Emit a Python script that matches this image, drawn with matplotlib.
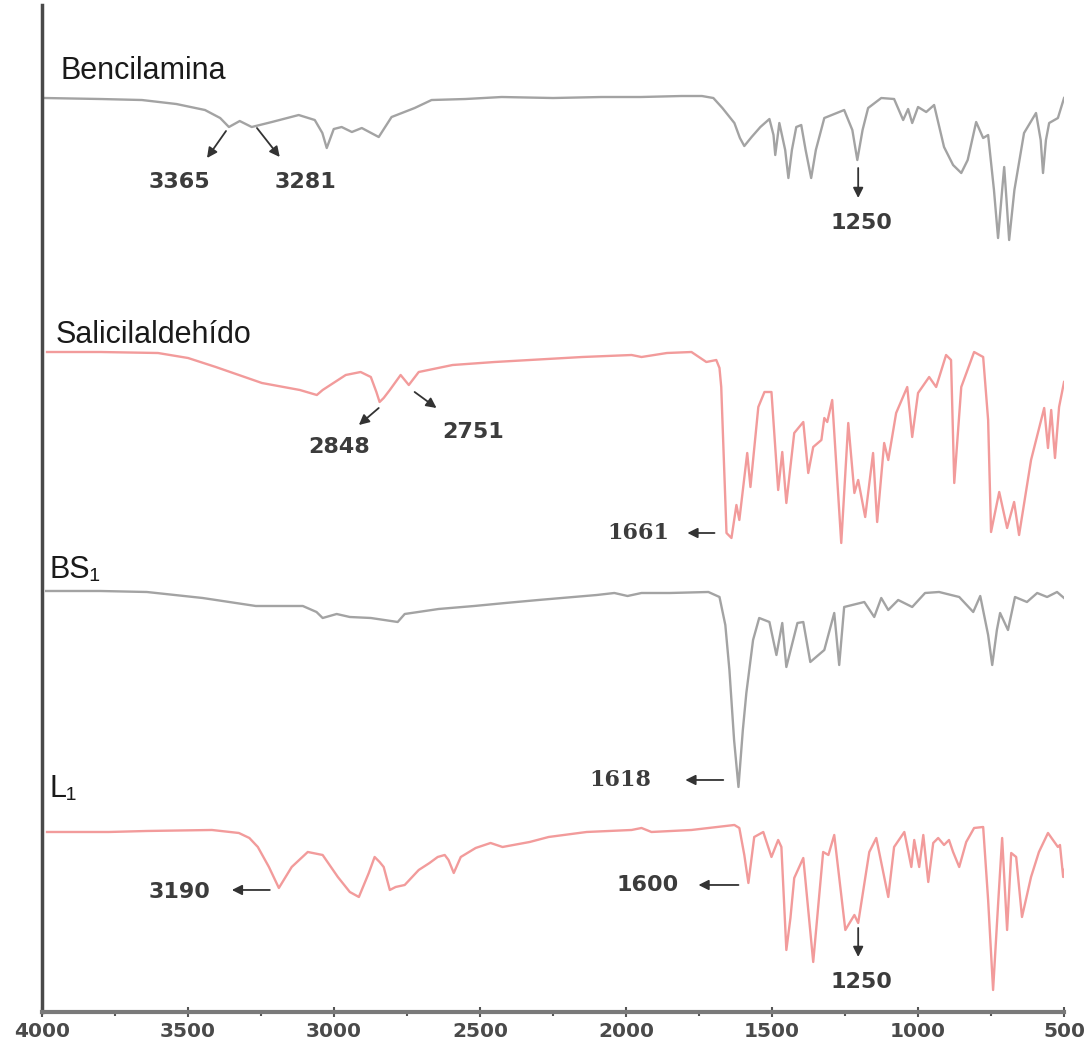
import matplotlib
matplotlib.use("Agg")
import matplotlib.pyplot as plt
from matplotlib.ticker import MultipleLocator

# ---------------- data (wavenumber, cm-1 ; stacked signal, axis inverted) -------------
benc_wn = [3990, 3800, 3658, 3540, 3442, 3390, 3360, 3323, 3282, 3213, 3121, 3066, 3040, 3025, 3001,
           2974, 2939, 2905, 2847, 2803, 2724, 2666, 2550, 2426, 2250, 2084, 1950, 1810, 1740, 1701,
           1670, 1629, 1610, 1595, 1570, 1540, 1509, 1495, 1489, 1475, 1455, 1444, 1432, 1417, 1400,
           1385, 1366, 1350, 1321, 1253, 1225, 1208, 1190, 1171, 1126, 1082, 1051, 1034, 1020, 1000,
           972, 945, 911, 880, 852, 830, 801, 777, 760, 740, 726, 712, 705, 697, 688, 670, 637, 596,
           580, 572, 562, 551, 521, 500]
benc_y = [98, 99, 100, 104, 110, 118, 127, 121, 127, 122, 115, 120, 133, 148, 129,
          127, 132, 128, 137, 117, 108, 100, 99, 97, 98, 97, 97, 96, 96, 98,
          108, 123, 138, 146, 137, 127, 119, 135, 155, 123, 150, 178, 150, 127, 125,
          150, 178, 150, 118, 110, 130, 160, 130, 108, 98, 99, 120, 109, 123, 107,
          112, 105, 147, 165, 173, 160, 122, 138, 135, 190, 238, 190, 167, 200, 240, 190, 133, 113,
          140, 173, 140, 123, 118, 98]

sal_wn = [3983, 3800, 3603, 3500, 3405, 3247, 3117, 3059, 3039, 2960, 2909, 2874, 2855, 2844, 2830,
          2809, 2772, 2744, 2710, 2594, 2450, 2330, 2150, 1981, 1947, 1860, 1776, 1725, 1691, 1680,
          1674, 1665, 1656, 1639, 1622, 1612, 1585, 1574, 1547, 1526, 1502, 1479, 1465, 1451, 1424,
          1393, 1376, 1359, 1331, 1321, 1311, 1294, 1263, 1239, 1218, 1205, 1181, 1154, 1140, 1116,
          1102, 1075, 1037, 1020, 1000, 962, 938, 904, 887, 876, 852, 808, 777, 760, 750, 722,
          695, 671, 654, 613, 568, 555, 544, 531, 517, 500]
sal_y = [352, 352, 353, 358, 367, 383, 390, 395, 390, 375, 372, 377, 392, 402, 398,
         390, 375, 385, 372, 365, 362, 360, 357, 355, 357, 353, 352, 362, 360, 368,
         387, 460, 533, 538, 505, 520, 453, 487, 407, 392, 392, 490, 452, 503, 433,
         422, 473, 447, 440, 418, 422, 400, 543, 423, 493, 480, 517, 453, 522, 443,
         460, 413, 387, 437, 393, 377, 387, 355, 360, 483, 387, 352, 357, 420, 532, 492,
         528, 502, 535, 460, 408, 448, 410, 458, 407, 382]

bs_wn = [3986, 3800, 3641, 3450, 3268, 3107, 3060, 3039, 2991, 2946, 2874, 2782, 2758, 2642, 2520,
         2413, 2300, 2180, 2100, 2040, 1995, 1947, 1850, 1718, 1680, 1660, 1646, 1630, 1615, 1600,
         1588, 1565, 1544, 1509, 1485, 1465, 1451, 1413, 1393, 1369, 1321, 1287, 1270, 1253, 1184,
         1150, 1126, 1102, 1068, 1020, 976, 928, 859, 811, 787, 760, 746, 730, 719, 692,
         668, 627, 592, 558, 524, 500]
bs_y = [591, 591, 592, 598, 606, 606, 612, 618, 614, 617, 618, 622, 614, 609, 606,
        603, 600, 597, 595, 593, 596, 593, 593, 592, 597, 625, 670, 740, 787, 730,
        693, 640, 618, 622, 655, 623, 667, 623, 622, 662, 650, 613, 665, 607, 602,
        617, 598, 610, 600, 607, 593, 592, 597, 612, 596, 635, 665, 630, 613, 630,
        597, 602, 593, 597, 592, 598]

l1_wn = [3983, 3771, 3641, 3418, 3326, 3290, 3261, 3223, 3189, 3145, 3090, 3039, 2987, 2946, 2915,
         2881, 2861, 2844, 2830, 2809, 2789, 2758, 2710, 2673, 2645, 2621, 2608, 2590, 2566, 2515,
         2464, 2423, 2330, 2265, 2135, 1981, 1947, 1913, 1776, 1629, 1612, 1595, 1581, 1561, 1530,
         1502, 1479, 1468, 1451, 1437, 1424, 1393, 1359, 1325, 1307, 1287, 1249, 1218, 1205, 1167,
         1143, 1102, 1082, 1047, 1023, 1013, 996, 982, 965, 948, 931, 911, 894, 880, 859,
         835, 808, 777, 760, 743, 725, 712, 695, 681, 664, 644, 613, 586, 555, 521,
         514, 503, 500]
l1_y = [832, 832, 831, 830, 833, 838, 847, 867, 888, 867, 852, 855, 877, 892, 897,
        873, 857, 862, 867, 890, 887, 885, 870, 863, 857, 855, 860, 873, 857, 848,
        843, 847, 842, 837, 832, 830, 828, 832, 830, 825, 828, 855, 883, 837, 832,
        857, 840, 847, 950, 918, 878, 858, 962, 852, 855, 835, 930, 915, 923, 852,
        838, 897, 847, 832, 867, 840, 867, 835, 882, 843, 838, 845, 840, 852, 867,
        842, 828, 827, 900, 990, 900, 838, 930, 853, 857, 917, 877, 852, 833, 847,
        845, 877, 870]

names = ["Bencilamina", "Salicilaldehído", "BS₁", "L₁"]
x_ticks = [4000, 3500, 3000, 2500, 2000, 1500, 1000, 500]

peak_labels = ["3365", "3281", "1250", "2848", "2751", "1661", "1618", "1600", "3190", "1250"]

GRAY = "#a3a3a3"
PINK = "#f29b9b"

fig = plt.figure(figsize=(10.92, 10.45), dpi=100)
ax = fig.add_axes([0.0385, 0.0316, 0.9359, 0.9636])

for wn, y, c in [(benc_wn, benc_y, GRAY), (sal_wn, sal_y, PINK),
                 (bs_wn, bs_y, GRAY), (l1_wn, l1_y, PINK)]:
    ax.plot(wn, y, color=c, lw=1.7, solid_joinstyle="round")

ax.set_xlim(4000, 500)
ax.set_ylim(1012, 5)

for s in ["top", "right"]:
    ax.spines[s].set_visible(False)
ax.spines["left"].set_color("#4a4a4a")
ax.spines["left"].set_linewidth(2.5)
ax.spines["bottom"].set_color("#7a7a7a")
ax.spines["bottom"].set_linewidth(3)

ax.set_yticks([])
ax.set_xticks(x_ticks)
ax.set_xticklabels([str(t) for t in x_ticks])
ax.xaxis.set_minor_locator(MultipleLocator(250))
ax.tick_params(axis="x", which="major", direction="inout", length=7, width=1.5,
               color="#555555", pad=4, labelsize=14.5, labelcolor="#4a4a4a")
ax.tick_params(axis="x", which="minor", direction="out", length=3, width=1.5, color="#555555")
for lbl in ax.get_xticklabels():
    lbl.set_fontweight("bold")
    lbl.set_family("DejaVu Sans")

title_font = dict(family=["Liberation Sans", "DejaVu Sans"], fontsize=22, color="#1a1a1a",
                  va="baseline", ha="left")
ax.text(3938, 79, names[0], **title_font)
ax.text(3952, 343, names[1], **title_font)
ax.text(3973, 578, names[2], **title_font)
ax.text(3973, 797, names[3], **title_font)

text_pos = [(3531, 182), (3097, 182), (1195, 223), (2984, 447), (2522, 432),
            (1957, 533), (2019, 780), (1927, 885), (3528, 892), (1195, 982)]
arrow_tail = [(3370, 131), (3264, 128), (1205, 168), (2847, 408), (2724, 392),
              (1697, 533), (1667, 780), (1615, 885), (3220, 890), (1205, 928)]
arrow_head = [(3435, 158), (3186, 157), (1205, 198), (2915, 425), (2649, 408),
              (1790, 533), (1797, 780), (1752, 885), (3350, 890), (1205, 957)]
serif = [False, False, False, False, False, True, True, False, False, False]

for lab, tp, tl, hd, sf in zip(peak_labels, text_pos, arrow_tail, arrow_head, serif):
    ax.annotate("", xy=hd, xytext=tl,
                arrowprops=dict(arrowstyle="-|>,head_length=0.6,head_width=0.3",
                                color="#333333", lw=1.3, shrinkA=0, shrinkB=0))
    ax.text(tp[0], tp[1], lab, ha="center", va="center", fontsize=16, fontweight="bold",
            color="#3c3c3c", family="DejaVu Serif" if sf else "DejaVu Sans")

fig.savefig("out.png", dpi=100)
